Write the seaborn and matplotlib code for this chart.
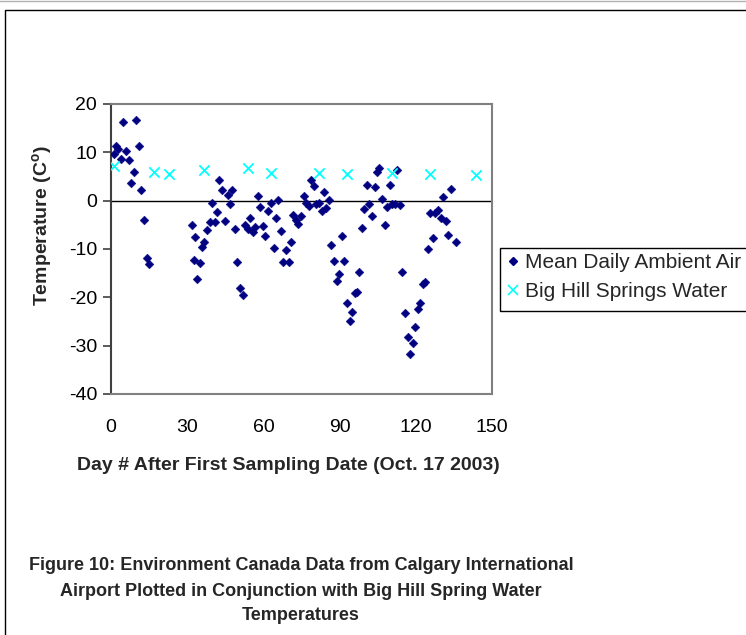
import matplotlib
matplotlib.use("Agg")
import matplotlib.pyplot as plt
from matplotlib.patches import Rectangle
from matplotlib.lines import Line2D
import seaborn as sns

# Mean daily ambient air temperature, Calgary International Airport
air_day = [1.0, 2.0, 2.9, 3.9, 4.8, 5.9, 7.1, 7.9, 8.9, 10.0, 10.9, 11.9, 12.9, 14.2, 14.9,
           31.9, 32.8, 32.9, 33.8, 34.9, 35.9, 36.8, 37.9, 38.8, 39.8, 40.9, 41.8, 42.7, 43.8,
           44.8, 45.9, 46.8, 47.8, 48.9, 49.8, 50.7, 51.8, 52.8, 53.8, 54.8, 55.8, 56.8, 57.8,
           58.7, 59.8, 60.8, 61.9, 62.9, 64.0, 64.9, 65.9, 67.0, 67.9, 68.9, 69.9, 70.9, 71.8,
           72.8, 73.8, 74.8, 75.9, 76.8, 77.9, 78.9, 79.8, 80.8, 81.8, 82.9, 83.8, 84.8, 85.8,
           86.8, 87.6, 88.9, 89.9, 90.8, 91.9, 92.8, 93.9, 94.8, 95.9, 96.7, 97.8, 98.7, 99.8,
           100.7, 101.7, 102.8, 103.8, 104.9, 105.5, 106.8, 107.7, 108.8, 109.7, 110.8, 111.7,
           112.7, 113.8, 114.7, 115.9, 116.9, 117.9, 118.8, 119.8, 120.9, 121.8, 122.8, 123.7,
           124.7, 125.5, 126.6, 127.7, 128.7, 129.8, 130.8, 131.7, 132.8, 133.8, 135.8]
air_temp = [9.6, 11.4, 10.7, 8.7, 16.2, 10.2, 8.5, 3.6, 5.9, 16.7, 11.3, 2.3, -4.1, -11.9, -13.1,
            -5.1, -12.2, -7.6, -16.3, -12.8, -9.6, -8.5, -6.0, -4.5, -0.4, -4.5, -2.4, 4.2, 2.2,
            -4.3, 1.2, -0.6, 2.2, -5.9, -12.7, -18.1, -19.5, -5.0, -5.8, -3.5, -6.5, -5.4, 0.9,
            -1.3, -5.2, -7.3, -2.2, -0.4, -9.7, -3.6, 0.2, -6.3, -12.6, -10.2, -12.6, -8.6, -2.9,
            -3.9, -4.8, -3.1, 0.9, -0.4, -1.1, 4.2, 3.1, -0.6, -0.4, -2.1, 1.8, -1.6, 0.1,
            -9.1, -12.4, -16.6, -15.1, -7.4, -12.4, -21.2, -24.8, -23.1, -19.2, -19.0, -14.7, -5.6, -1.8,
            3.2, -0.6, -3.1, 2.9, 5.9, 6.7, 0.4, -5.0, -1.4, 3.3, -0.7, -0.7,
            6.3, -0.8, -14.7, -23.3, -28.2, -31.8, -29.5, -26.1, -22.4, -21.1, -17.2, -16.9,
            -10.1, -2.6, -7.8, -2.6, -1.9, -3.5, 0.7, -4.3, -7.2, 2.4, -8.5]

# Big Hill Springs water temperature on sampling days
spring_day = [1.0, 16.9, 22.9, 36.8, 53.9, 62.8, 81.8, 92.8, 110.6, 125.7, 143.8]
spring_temp = [7.1, 6.0, 5.5, 6.4, 6.8, 5.7, 5.7, 5.5, 5.8, 5.6, 5.3]

x_ticks = [0, 30, 60, 90, 120, 150]
y_ticks = [-40, -30, -20, -10, 0, 10, 20]

sns.set_style("white")
plt.rcParams["font.family"] = ["Liberation Sans", "DejaVu Sans"]
plt.rcParams["axes.unicode_minus"] = False
plt.rcParams["mathtext.fontset"] = "custom"
plt.rcParams["mathtext.rm"] = "Liberation Sans"
plt.rcParams["mathtext.bf"] = "Liberation Sans:bold"

W, H = 746, 635
fig = plt.figure(figsize=(W / 100, H / 100), dpi=100)
ax = fig.add_axes([111 / W, 1 - 394 / H, (492 - 111) / W, (394 - 104) / H])

ax.axhline(0, color="black", lw=1.0, zorder=1)

sns.scatterplot(x=air_day, y=air_temp, ax=ax, marker="D", color="#000080",
                edgecolor="#000080", linewidth=0.3, s=20, zorder=3, legend=False)
sns.scatterplot(x=spring_day, y=spring_temp, ax=ax, marker="x", color="#00FFFF",
                linewidth=1.3, s=55, zorder=4, legend=False)

ax.set_xlim(0, 150)
ax.set_ylim(-40, 20)
ax.set_xticks(x_ticks)
ax.set_yticks(y_ticks)
ax.set_xticklabels([str(v) for v in x_ticks])
ax.set_yticklabels([str(v) for v in y_ticks])
ax.tick_params(axis="x", length=0, pad=18, labelsize=14, colors="black")
ax.tick_params(axis="y", length=6, width=1.2, pad=4, labelsize=14,
               color="#404040", labelcolor="black", left=True)
ax.set_xlabel("")
ax.set_ylabel("")
ax.grid(False)

for side, sp in ax.spines.items():
    sp.set_visible(True)
    sp.set_linewidth(1.5)
    sp.set_color("#808080")
ax.spines["left"].set_color("#404040")

# legend (its box runs past the right edge of the chart)
handles = [
    Line2D([], [], linestyle="none", marker="D", markersize=3.6, color="#000080"),
    Line2D([], [], linestyle="none", marker="x", markersize=7, markeredgewidth=1.2,
           color="#00FFFF"),
]
labels = ["Mean Daily Ambient Air", "Big Hill Springs Water"]
leg = fig.legend(handles, labels, loc="upper left",
                 bbox_to_anchor=(500.5 / W, 1 - 247.5 / H),
                 bbox_transform=fig.transFigure, fontsize=15, frameon=False,
                 borderaxespad=0, borderpad=0.28,
                 handlelength=0.62, handletextpad=0.27, labelspacing=0.48)
fig.add_artist(Rectangle((500.5 / W, 1 - 311 / H), 0.5, (311 - 247.5) / H,
                         transform=fig.transFigure, fill=False,
                         edgecolor="black", linewidth=1.0))

# axis titles and caption
fig.text(43 / W, 1 - 226 / H, r"Temperature (C$^{\mathbf{o}}$)", rotation=90,
         ha="center", va="center", fontsize=14, fontweight="bold")
fig.text(288.5 / W, 1 - 465 / H, "Day # After First Sampling Date (Oct. 17 2003)",
         ha="center", va="center", fontsize=14, fontweight="bold")
caption = ["Figure 10: Environment Canada Data from Calgary International",
           "Airport Plotted in Conjunction with Big Hill Spring Water",
           "Temperatures"]
for i, line in enumerate(caption):
    fig.text(301 / W, 1 - (566 + 25 * i) / H, line, ha="center", va="center",
             fontsize=13, fontweight="bold")

# chart frame
fig.add_artist(Rectangle((5 / W, -0.05), 1.1, 1 - 10 / H + 0.05, transform=fig.transFigure,
                         fill=False, edgecolor="black", linewidth=1.0))
fig.add_artist(Line2D([0, 1], [1 - 0.5 / H, 1 - 0.5 / H], transform=fig.transFigure,
                      color="#b0b0b0", linewidth=1.0))

fig.savefig("out.png", dpi=100)
